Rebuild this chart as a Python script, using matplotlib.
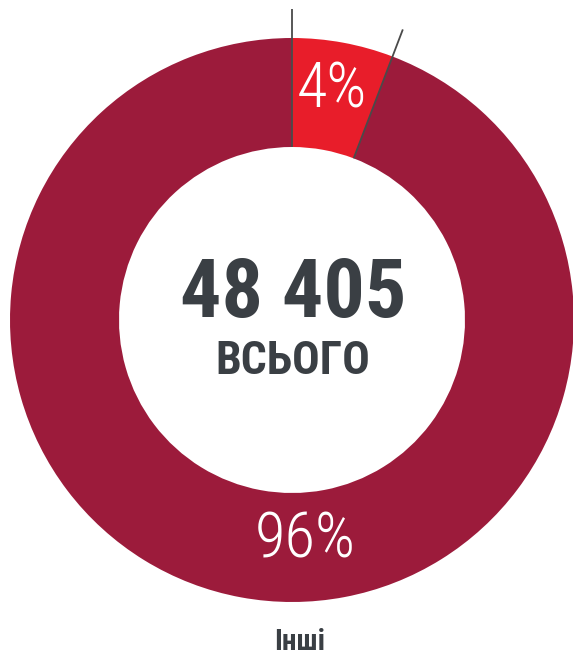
import numpy as np
import matplotlib.pyplot as plt

# donut shares as drawn, and labels printed on them
labels = ["4%", "96%"]
shares = [5.8, 94.2]
total_text = "48 405"
total_caption = "ВСЬОГО"
category = "Інші"
colors = ["#E81D2A", "#9C1B3B"]

fig = plt.figure(figsize=(5.73, 6.59), dpi=100)
ax = fig.add_axes([0, 0, 1, 1])

cx, cy = 292, 339
r_out, r_in = 282, 173

wedges, _ = ax.pie(shares, colors=colors, startangle=90, counterclock=False,
                   radius=r_out, center=(cx, cy), frame=True,
                   wedgeprops=dict(width=r_out - r_in, linewidth=0))
ax.set_xlim(0, 573)
ax.set_ylim(0, 659)
ax.set_aspect("equal")
ax.axis("off")

# leader lines on the edges of the small slice
w = wedges[0]
for ang in (w.theta1, w.theta2):
    t = np.deg2rad(ang)
    ax.plot([cx + r_in * np.cos(t), cx + 311 * np.cos(t)],
            [cy + r_in * np.sin(t), cy + 311 * np.sin(t)],
            color="#4a4a4a", lw=1.3, solid_capstyle="butt")

light = dict(family=["Roboto Condensed", "Roboto", "DejaVu Sans"], weight="light",
             stretch="condensed", color="white", ha="center", va="center")
ax.text(332, 569, labels[0], fontsize=45, **light)
ax.text(305, 119, labels[1], fontsize=45, **light)

narrow = dict(family=["Roboto Condensed", "Roboto", "DejaVu Sans"], weight="bold",
              stretch="condensed", color="#3a3f44", ha="center", va="center")
ax.text(293, 364, total_text, fontsize=59, **narrow)
ax.text(293, 298, total_caption, fontsize=33, **narrow)
ax.text(300, 17, category, fontsize=21, **narrow)

fig.savefig("out.png", dpi=100)
